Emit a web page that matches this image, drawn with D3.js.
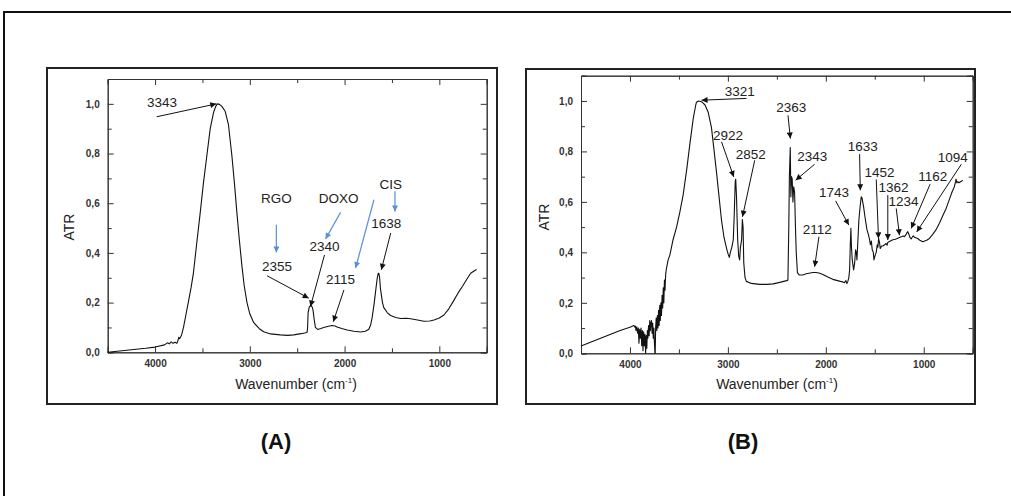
<!DOCTYPE html>
<html><head><meta charset="utf-8">
<script src="https://cdn.jsdelivr.net/npm/d3@7"></script>
<style>
html,body{margin:0;padding:0;background:#fff;}
svg{display:block;font-family:"Liberation Sans",Arial,sans-serif;}
</style></head>
<body>
<svg id="c" width="1011" height="496"></svg>
<script>
// ---------- DATA ----------
const xMajorTicks = [4000, 3000, 2000, 1000];
const xMinorTicks = [3500, 2500, 1500];
const yMajorTicks = [0, 0.2, 0.4, 0.6, 0.8, 1.0];
const yMinorTicks = [0.1, 0.3, 0.5, 0.7, 0.9];

const wavenumberA = [4500,4300,4100,4000,3900,3870,3850,3830,3810,3790,3770,3760,3750,3740,3720,3700,3680,3650,3620,3595,3560,3524,3490,3454,3418,3383,3360,3343,3320,3295,3260,3225,3189,3160,3136,3110,3084,3060,3030,3000,2960,2900,2854,2780,2678,2600,2537,2460,2396,2390,2385,2372,2355,2340,2333,2320,2308,2284,2250,2220,2170,2132,2100,2079,2030,1973,1900,1832,1780,1744,1725,1709,1690,1674,1655,1645,1638,1630,1621,1600,1586,1550,1515,1460,1409,1350,1303,1230,1162,1100,1057,1000,951,900,845,800,757,700,669,630,606];
const atrA = [0.0,0.008,0.016,0.021,0.03,0.038,0.034,0.042,0.036,0.04,0.036,0.045,0.06,0.055,0.07,0.1,0.14,0.2,0.26,0.32,0.44,0.56,0.68,0.79,0.9,0.965,0.99,1.0,0.998,0.99,0.97,0.915,0.79,0.67,0.56,0.45,0.35,0.27,0.2,0.155,0.12,0.095,0.083,0.074,0.07,0.068,0.07,0.075,0.08,0.1,0.16,0.183,0.19,0.18,0.17,0.13,0.1,0.092,0.096,0.1,0.105,0.108,0.106,0.102,0.096,0.09,0.085,0.082,0.085,0.093,0.11,0.14,0.19,0.24,0.3,0.318,0.318,0.3,0.255,0.2,0.18,0.16,0.148,0.14,0.136,0.137,0.135,0.13,0.125,0.126,0.13,0.138,0.15,0.175,0.21,0.24,0.265,0.3,0.318,0.328,0.333];

const wavenumberB = [4500,4300,4100,4000,3960,3952,3945,3938,3930,3922,3915,3908,3901,3894,3887,3880,3873,3867,3860,3853,3847,3840,3834,3828,3822,3817,3810,3804,3798,3792,3786,3780,3774,3768,3762,3756,3749,3745,3742,3738,3732,3726,3720,3714,3708,3702,3696,3690,3684,3678,3672,3666,3660,3654,3648,3642,3636,3630,3620,3610,3592,3560,3524,3490,3456,3420,3388,3354,3330,3321,3300,3270,3235,3201,3168,3140,3117,3090,3066,3040,3010,2995,2985,2975,2960,2945,2935,2925,2920,2912,2900,2890,2880,2872,2860,2852,2845,2838,2825,2811,2760,2675,2600,2538,2460,2400,2387,2378,2372,2363,2357,2350,2343,2336,2328,2319,2310,2302,2290,2270,2234,2200,2160,2132,2100,2070,2030,1980,1928,1880,1850,1826,1810,1795,1785,1775,1765,1757,1750,1744,1738,1730,1716,1705,1696,1688,1682,1672,1662,1650,1638,1630,1614,1600,1580,1565,1553,1545,1535,1526,1515,1508,1502,1495,1485,1475,1468,1461,1452,1444,1430,1417,1400,1385,1375,1366,1340,1315,1290,1270,1248,1230,1210,1197,1185,1175,1163,1150,1140,1129,1115,1105,1095,1080,1061,1040,1020,1010,990,970,942,910,874,840,806,770,738,710,687,675,670,662,653,640,625,610,603];
const atrB = [0.029,0.06,0.09,0.103,0.11,0.104,0.108,0.09,0.105,0.08,0.1,0.04,0.095,0.06,0.1,0.03,0.09,0.01,0.085,0.03,0.075,0.0,0.07,0.02,0.09,0.06,0.11,0.07,0.13,0.09,0.12,0.13,0.08,0.12,0.06,0.1,0.03,0.0,0.0,0.1,0.14,0.09,0.15,0.1,0.17,0.11,0.19,0.13,0.2,0.15,0.23,0.18,0.26,0.2,0.29,0.25,0.31,0.33,0.35,0.37,0.39,0.45,0.5,0.56,0.63,0.73,0.83,0.93,0.98,0.995,1.0,0.997,0.985,0.955,0.895,0.8,0.72,0.62,0.53,0.46,0.41,0.39,0.38,0.4,0.42,0.45,0.55,0.68,0.69,0.62,0.45,0.385,0.37,0.42,0.45,0.53,0.5,0.36,0.3,0.285,0.277,0.273,0.273,0.275,0.282,0.288,0.29,0.5,0.7,0.815,0.62,0.7,0.69,0.6,0.66,0.64,0.5,0.4,0.32,0.31,0.31,0.315,0.318,0.32,0.32,0.318,0.312,0.302,0.293,0.288,0.285,0.283,0.28,0.288,0.276,0.285,0.3,0.33,0.43,0.495,0.42,0.37,0.33,0.36,0.41,0.4,0.37,0.45,0.53,0.58,0.62,0.615,0.58,0.54,0.49,0.47,0.45,0.43,0.445,0.41,0.4,0.37,0.38,0.39,0.4,0.43,0.42,0.455,0.44,0.415,0.425,0.425,0.43,0.435,0.428,0.44,0.445,0.45,0.452,0.455,0.459,0.462,0.465,0.462,0.468,0.475,0.482,0.47,0.458,0.453,0.462,0.465,0.46,0.458,0.455,0.448,0.444,0.442,0.445,0.448,0.455,0.47,0.49,0.515,0.545,0.575,0.61,0.64,0.66,0.68,0.69,0.675,0.68,0.676,0.68,0.683,0.686];

// annotations: label, label position (wavenumber, ATR), arrow from -> to (wavenumber, ATR)
const labelsA = ["3343","RGO","DOXO","CIS","2355","2340","2115","1638"];
const labelPosA = [[3926,1.0],[2720,0.614],[2063,0.614],[1513,0.671],[2712,0.34],[2212,0.422],[2042,0.289],[1559,0.513]];
const arrowsA = [
  {from:[3982,0.948], to:[3354,1.0], kind:"black"},
  {from:[2720,0.513], to:[2720,0.402], kind:"blue"},
  {from:[2042,0.563], to:[2201,0.456], kind:"blue"},
  {from:[1690,0.614], to:[1884,0.339], kind:"blue"},
  {from:[1468,0.648], to:[1468,0.567], kind:"blue"},
  {from:[2818,0.308], to:[2378,0.218], kind:"black"},
  {from:[2212,0.392], to:[2360,0.184], kind:"black"},
  {from:[2007,0.251], to:[2119,0.123], kind:"black"},
  {from:[1513,0.48],  to:[1612,0.332], kind:"black"}
];
const labelsB = ["3321","2363","2922","2852","2343","2112","1743","1633","1452","1362","1234","1162","1094"];
const labelPosB = [[2879,1.032],[2352,0.97],[2998,0.86],[2767,0.785],[2138,0.778],[2087,0.488],[1917,0.633],[1622,0.816],[1452,0.713],[1309,0.653],[1207,0.596],[908,0.697],[704,0.772]];
const arrowsB = [
  {from:[2810,1.01],  to:[3269,1.003], kind:"black"},
  {from:[2386,0.943], to:[2362,0.851], kind:"black"},
  {from:[3065,0.838], to:[2940,0.699], kind:"black"},
  {from:[2726,0.765], to:[2851,0.541], kind:"black"},
  {from:[2114,0.749], to:[2308,0.686], kind:"black"},
  {from:[2070,0.462], to:[2114,0.343], kind:"black"},
  {from:[1900,0.604], to:[1765,0.508], kind:"black"},
  {from:[1655,0.789], to:[1648,0.646], kind:"black"},
  {from:[1485,0.689], to:[1462,0.455], kind:"black"},
  {from:[1367,0.627], to:[1367,0.449], kind:"black"},
  {from:[1281,0.574], to:[1248,0.468], kind:"black"},
  {from:[935,0.67],   to:[1128,0.495], kind:"black"},
  {from:[616,0.749],  to:[1072,0.481], kind:"black"}
];

// ---------- DRAW ----------
const svg = d3.select("#c");
const defs = svg.append("defs");
function marker(id, color){
  defs.append("marker").attr("id", id).attr("viewBox","0 0 10 10")
    .attr("refX", 10).attr("refY", 5).attr("markerWidth", 7).attr("markerHeight", 6)
    .attr("markerUnits","userSpaceOnUse").attr("orient","auto")
    .append("path").attr("d","M0,0 L10,5 L0,10 z").attr("fill", color);
}
marker("arrK", "#111");
marker("arrB", "#5b8fd0");

// outer frame
svg.append("rect").attr("x",4).attr("y",12).attr("width",1030).attr("height",520)
  .attr("fill","none").attr("stroke","#111").attr("stroke-width",2);

const fmt = v => d3.format(".1f")(v).replace(".", ",");

function panel(o){
  const g = svg.append("g");
  g.append("rect").attr("x",o.box[0]).attr("y",o.box[1]).attr("width",o.box[2]-o.box[0]).attr("height",o.box[3]-o.box[1])
    .attr("fill","none").attr("stroke","#222").attr("stroke-width",2);
  const x = d3.scaleLinear().domain([4500,500]).range([o.plot[0], o.plot[2]]);
  const y = d3.scaleLinear().domain([0,1.1]).range([o.plot[3], o.plot[1]]);

  const ax = (gen, tr) => {
    const a = g.append("g").attr("transform", tr).call(gen);
    a.select(".domain").attr("stroke","#333");
    a.selectAll(".tick line").attr("stroke","#333");
    a.selectAll("text").attr("font-size","10px").attr("font-weight","bold").attr("fill","#333");
    return a;
  };
  ax(d3.axisBottom(x).tickValues(xMajorTicks).tickSize(-6).tickPadding(8).tickFormat(d3.format("d")), `translate(0,${o.plot[3]})`);
  ax(d3.axisBottom(x).tickValues(xMinorTicks).tickSize(-4).tickFormat(""), `translate(0,${o.plot[3]})`);
  ax(d3.axisTop(x).tickValues(xMajorTicks).tickSize(-6).tickFormat(""), `translate(0,${o.plot[1]})`);
  ax(d3.axisTop(x).tickValues(xMinorTicks).tickSize(-4).tickFormat(""), `translate(0,${o.plot[1]})`);
  ax(d3.axisLeft(y).tickValues(yMajorTicks).tickSize(-6).tickPadding(8).tickFormat(fmt), `translate(${o.plot[0]},0)`);
  ax(d3.axisLeft(y).tickValues(yMinorTicks).tickSize(-4).tickFormat(""), `translate(${o.plot[0]},0)`);
  ax(d3.axisRight(y).tickValues(yMajorTicks).tickSize(-6).tickFormat(""), `translate(${o.plot[2]},0)`);
  ax(d3.axisRight(y).tickValues(yMinorTicks).tickSize(-4).tickFormat(""), `translate(${o.plot[2]},0)`);

  g.append("text").attr("transform",`translate(${o.ylab[0]},${o.ylab[1]}) rotate(-90)`)
    .attr("text-anchor","middle").attr("dominant-baseline","middle")
    .attr("font-size","14px").attr("fill","#222").text("ATR");
  const xt = g.append("text").attr("x",o.xlab[0]).attr("y",o.xlab[1]).attr("text-anchor","middle")
    .attr("font-size","14px").attr("fill","#222");
  xt.append("tspan").text("Wavenumber (cm");
  xt.append("tspan").attr("dy",-6).attr("font-size","8px").text("-1");
  xt.append("tspan").attr("dy",6).text(")");

  const pts = o.wn.map((w,i)=>[w, o.v[i]]);
  g.append("path").datum(pts)
    .attr("d", d3.line().x(d=>x(d[0])).y(d=>y(d[1])))
    .attr("fill","none").attr("stroke","#111").attr("stroke-width",1.1).attr("stroke-linejoin","round");

  o.arrows.forEach(a=>{
    g.append("line").attr("x1",x(a.from[0])).attr("y1",y(a.from[1]))
      .attr("x2",x(a.to[0])).attr("y2",y(a.to[1]))
      .attr("stroke", a.kind==="blue" ? "#5b8fd0" : "#111")
      .attr("stroke-width", a.kind==="blue" ? 1.2 : 1)
      .attr("marker-end", a.kind==="blue" ? "url(#arrB)" : "url(#arrK)");
  });
  o.labels.forEach((t,i)=>{
    g.append("text").attr("x",x(o.lpos[i][0])).attr("y",y(o.lpos[i][1]))
      .attr("text-anchor","middle").attr("dominant-baseline","middle")
      .attr("font-size","13.5px").attr("fill","#222").text(t);
  });

  svg.append("text").attr("x",o.letter[0]).attr("y",o.letter[1]).attr("text-anchor","middle")
    .attr("dominant-baseline","middle").attr("font-size","22px").attr("font-weight","bold")
    .attr("fill","#111").text(o.name);
}

panel({name:"(A)", box:[47,68,497,404], plot:[107.7,79,486.7,352.3],
  ylab:[70,227], xlab:[296,389], letter:[276,443],
  wn:wavenumberA, v:atrA, labels:labelsA, lpos:labelPosA, arrows:arrowsA});
panel({name:"(B)", box:[526,69,975,404], plot:[581,75.7,972.7,353.3],
  ylab:[545,217], xlab:[777,389], letter:[743,443],
  wn:wavenumberB, v:atrB, labels:labelsB, lpos:labelPosB, arrows:arrowsB});
</script>
</body></html>
